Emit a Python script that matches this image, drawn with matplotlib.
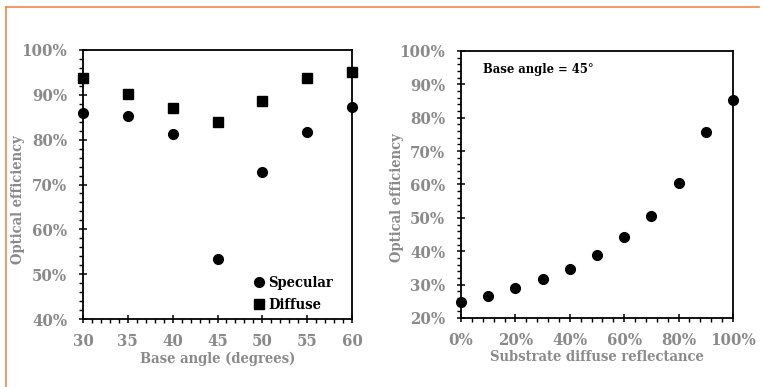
import matplotlib
matplotlib.use("Agg")
import matplotlib.pyplot as plt
from matplotlib.ticker import MultipleLocator, PercentFormatter
from matplotlib.lines import Line2D

# Data
base_angle = [30, 35, 40, 45, 50, 55, 60]
specular = [86.0, 85.2, 81.2, 53.4, 72.7, 81.6, 87.3]
diffuse = [93.8, 90.2, 87.1, 83.9, 88.7, 93.8, 95.2]

reflectance = [0, 10, 20, 30, 40, 50, 60, 70, 80, 90, 100]
efficiency = [24.9, 26.7, 29.0, 31.6, 34.8, 38.9, 44.2, 50.7, 60.5, 75.7, 85.2]

GRAY = "#8a8a8a"
FONT = "DejaVu Serif"
plt.rcParams["font.family"] = FONT
plt.rcParams["font.weight"] = "bold"
plt.rcParams["font.stretch"] = "condensed"

fig = plt.figure(figsize=(7.63, 3.87), dpi=100)
W, H = 763, 387

def axes_px(x0, y0, x1, y1):
    return fig.add_axes([x0 / W, 1 - y1 / H, (x1 - x0) / W, (y1 - y0) / H])

ax1 = axes_px(83, 50, 352, 319)
ax2 = axes_px(461, 51, 733, 318)

TICK_FS = 12
LABEL_FS = 10.5

def style(ax):
    for s in ax.spines.values():
        s.set_linewidth(1.3)
        s.set_color("black")
    ax.tick_params(which="major", direction="inout", length=6, width=1.1,
                   labelsize=TICK_FS, labelcolor=GRAY, color="black")
    ax.tick_params(axis="x", which="major", pad=7)
    ax.tick_params(axis="y", which="major", pad=8.5)
    ax.tick_params(which="minor", direction="out", length=3, width=1.0, color="black")
    for lab in ax.get_xticklabels() + ax.get_yticklabels():
        lab.set_fontweight("bold")
        lab.set_fontstretch("condensed")

# Left plot
ax1.plot(base_angle, specular, "o", color="black", markersize=7, label="Specular", clip_on=False)
ax1.plot(base_angle, diffuse, "s", color="black", markersize=7, label="Diffuse", clip_on=False)
ax1.set_xlim(30, 60)
ax1.set_ylim(40, 100)
ax1.xaxis.set_major_locator(MultipleLocator(5))
ax1.xaxis.set_minor_locator(MultipleLocator(1))
ax1.yaxis.set_major_locator(MultipleLocator(10))
ax1.yaxis.set_minor_locator(MultipleLocator(2))
ax1.yaxis.set_major_formatter(PercentFormatter(decimals=0))
style(ax1)
ax1.set_xlabel("Base angle (degrees)", color=GRAY, fontsize=LABEL_FS, fontweight="bold",
               fontstretch="condensed", labelpad=1)
ax1.set_ylabel("Optical efficiency", color=GRAY, fontsize=LABEL_FS, fontweight="bold",
               fontstretch="condensed")
ax1.yaxis.set_label_coords((25 - 83) / 269, 1 - (200 - 50) / 269)
leg = ax1.legend(loc="lower right", bbox_to_anchor=(1 - 12 / 269, 0), frameon=False,
                 prop={"family": FONT, "weight": "bold", "size": 10.5, "stretch": "condensed"},
                 handletextpad=0.0, handlelength=1.2, borderaxespad=0.1, labelspacing=0.55)

# Right plot
ax2.plot(reflectance, efficiency, "o", color="black", markersize=7, clip_on=False)
ax2.set_xlim(0, 100)
ax2.set_ylim(20, 100)
ax2.xaxis.set_major_locator(MultipleLocator(20))
ax2.xaxis.set_minor_locator(MultipleLocator(4))
ax2.yaxis.set_major_locator(MultipleLocator(10))
ax2.yaxis.set_minor_locator(MultipleLocator(2))
ax2.xaxis.set_major_formatter(PercentFormatter(decimals=0))
ax2.yaxis.set_major_formatter(PercentFormatter(decimals=0))
style(ax2)
ax2.set_xlabel("Substrate diffuse reflectance", color=GRAY, fontsize=LABEL_FS, fontweight="bold",
               fontstretch="condensed", labelpad=1)
ax2.set_ylabel("Optical efficiency", color=GRAY, fontsize=LABEL_FS, fontweight="bold",
               fontstretch="condensed")
ax2.yaxis.set_label_coords((404 - 461) / 272, 1 - (197.5 - 51) / 267)
ax2.text(0.08, 0.93, "Base angle = 45°", transform=ax2.transAxes, fontsize=9.3,
         fontweight="bold", fontstretch="condensed", color="black", va="center", ha="left")

# Orange frame lines
ORANGE = "#f0864a"
fig.add_artist(Line2D([6 / W, 759 / W], [1 - 7 / H, 1 - 7 / H], color=ORANGE, lw=1.2))
fig.add_artist(Line2D([6 / W, 6 / W], [1 - 7 / H, 0], color=ORANGE, lw=1.2))

fig.savefig("out.png", dpi=100)
